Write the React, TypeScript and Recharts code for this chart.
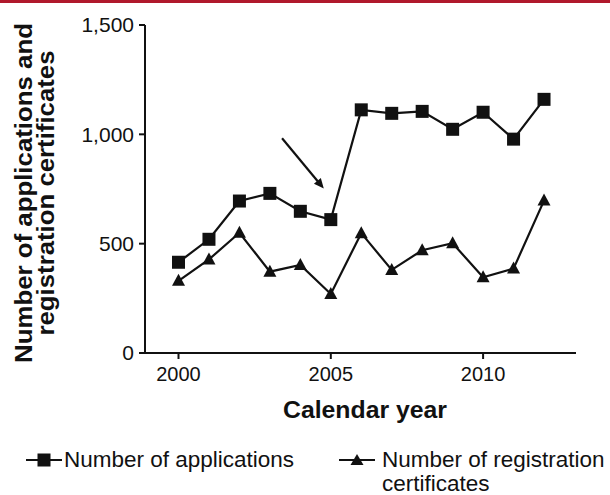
import { LineChart, Line, XAxis, YAxis, ReferenceLine, Label } from "recharts";

const years = [2000, 2001, 2002, 2003, 2004, 2005, 2006, 2007, 2008, 2009, 2010, 2011, 2012];
const applications = [415, 520, 695, 730, 648, 610, 1112, 1096, 1105, 1023, 1101, 978, 1160];
const certificates = [330, 428, 550, 372, 403, 270, 548, 380, 470, 502, 346, 386, 697];
const yTicks = [0, 500, 1000, 1500];
const xTicks = [2000, 2005, 2010];
const arrowStart = { year: 2003.4, value: 982 };
const arrowEnd = { year: 2004.77, value: 752 };

const data = years.map((year, i) => ({
  year,
  applications: applications[i],
  certificates: certificates[i],
}));

const FONT = '"Liberation Sans", Arial, Helvetica, sans-serif';
const INK = "#111";

const SquareDot = (props: any) => {
  const { cx, cy, index } = props;
  if (cx == null || cy == null) return null;
  return <rect key={`sq-${index}`} x={cx - 6.5} y={cy - 6.5} width={13} height={13} fill={INK} />;
};

const TriangleDot = (props: any) => {
  const { cx, cy, index } = props;
  if (cx == null || cy == null) return null;
  return (
    <polygon
      key={`tri-${index}`}
      points={`${cx},${cy - 7} ${cx - 6.5},${cy + 5} ${cx + 6.5},${cy + 5}`}
      fill={INK}
    />
  );
};

const ArrowShape = (props: any) => {
  const { x1, y1, x2, y2 } = props;
  const ang = Math.atan2(y2 - y1, x2 - x1);
  const len = 11;
  const spread = 0.42;
  const p1x = x2 - len * Math.cos(ang - spread);
  const p1y = y2 - len * Math.sin(ang - spread);
  const p2x = x2 - len * Math.cos(ang + spread);
  const p2y = y2 - len * Math.sin(ang + spread);
  return (
    <g>
      <line x1={x1} y1={y1} x2={x2 - 5 * Math.cos(ang)} y2={y2 - 5 * Math.sin(ang)} stroke={INK} strokeWidth={2.2} />
      <polygon points={`${x2},${y2} ${p1x},${p1y} ${p2x},${p2y}`} fill={INK} />
    </g>
  );
};

const YTitle = () => (
  <g fontFamily={FONT} fontWeight="bold" fontSize={24} fill={INK}>
    <text x={32} y={193} textAnchor="middle" transform="rotate(-90, 32, 193)" textLength={340} lengthAdjust="spacingAndGlyphs">
      Number of applications and
    </text>
    <text x={54} y={193} textAnchor="middle" transform="rotate(-90, 54, 193)" textLength={285} lengthAdjust="spacingAndGlyphs">
      registration certificates
    </text>
  </g>
);

const XTitle = () => (
  <text
    x={365}
    y={418}
    textAnchor="middle"
    fontFamily={FONT}
    fontWeight="bold"
    fontSize={23}
    fill={INK}
    textLength={164}
    lengthAdjust="spacingAndGlyphs"
  >
    Calendar year
  </text>
);

const LegendIcon = ({ kind }: { kind: "square" | "triangle" }) => (
  <svg width={36} height={16} style={{ display: "block" }}>
    <line x1={0} y1={8} x2={36} y2={8} stroke={INK} strokeWidth={2} />
    {kind === "square" ? (
      <rect x={11.5} y={1.5} width={13} height={13} fill={INK} />
    ) : (
      <polygon points="18,2 11.5,13 24.5,13" fill={INK} />
    )}
  </svg>
);

const legendText = { fontFamily: FONT, fontSize: 22.5, color: INK, lineHeight: "22px", whiteSpace: "nowrap" as const };

export default function App() {
  return (
    <div style={{ position: "absolute", left: 0, top: 0, width: 610, height: 495, background: "#fff", overflow: "hidden" }}>
      <div style={{ position: "absolute", left: 0, top: 0, width: 610, height: 3, background: "#b0182c" }} />
      <LineChart width={610} height={495} data={data} margin={{ top: 25, right: 34, bottom: 0, left: 0 }}>
        <XAxis
          dataKey="year"
          type="number"
          domain={[1998.9, 2013.05]}
          ticks={xTicks}
          allowDataOverflow
          height={142}
          axisLine={{ stroke: INK, strokeWidth: 2 }}
          tickLine={{ stroke: INK, strokeWidth: 2 }}
          tickSize={6}
          tickMargin={8}
          tick={{ fill: INK, fontSize: 20, fontFamily: FONT }}
        >
          <Label content={<XTitle />} />
        </XAxis>
        <YAxis
          type="number"
          domain={[0, 1500]}
          ticks={yTicks}
          width={145}
          axisLine={{ stroke: INK, strokeWidth: 2 }}
          tickLine={{ stroke: INK, strokeWidth: 2 }}
          tickSize={6}
          tickMargin={5}
          tickFormatter={(v: number) => v.toLocaleString("en-US")}
          tick={{ fill: INK, fontSize: 21, fontFamily: FONT }}
        >
          <Label content={<YTitle />} />
        </YAxis>
        <ReferenceLine
          segment={[
            { x: arrowStart.year, y: arrowStart.value },
            { x: arrowEnd.year, y: arrowEnd.value },
          ]}
          shape={ArrowShape}
          ifOverflow="visible"
        />
        <Line
          dataKey="applications"
          stroke={INK}
          strokeWidth={2.2}
          dot={SquareDot}
          activeDot={false}
          isAnimationActive={false}
        />
        <Line
          dataKey="certificates"
          stroke={INK}
          strokeWidth={2.2}
          dot={TriangleDot}
          activeDot={false}
          isAnimationActive={false}
        />
      </LineChart>
      <div style={{ position: "absolute", left: 26, top: 452 }}>
        <LegendIcon kind="square" />
      </div>
      <div style={{ position: "absolute", left: 64, top: 449, ...legendText }}>Number of applications</div>
      <div style={{ position: "absolute", left: 339, top: 452 }}>
        <LegendIcon kind="triangle" />
      </div>
      <div style={{ position: "absolute", left: 382, top: 449, ...legendText }}>Number of registration</div>
      <div style={{ position: "absolute", left: 382, top: 473, ...legendText }}>certificates</div>
    </div>
  );
}
